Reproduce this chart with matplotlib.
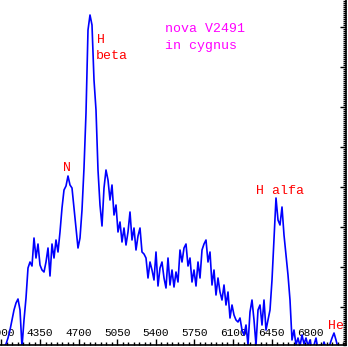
import numpy as np
import matplotlib
matplotlib.use("Agg")
import matplotlib.pyplot as plt
from matplotlib.ticker import MultipleLocator, FixedLocator

# spectrum of nova V2491 Cyg, sampled on a regular wavelength grid (Angstrom)
wavelength = np.linspace(3987, 7125, 174)
flux = [
    -5, -4, -2, 1, 7, 15, 25, 35, 42, 46,
    35, -2, 25, 47, 77, 83, 79, 107, 87, 101,
    80, 75, 73, 83, 97, 69, 101, 87, 105, 93,
    113, 137, 155, 159, 169, 160, 157, 137, 117, 97,
    107, 135, 177, 232, 315, 330, 320, 265, 235, 175,
    140, 119, 157, 175, 165, 145, 160, 130, 140, 113,
    123, 103, 117, 100, 113, 133, 105, 117, 95, 109,
    117, 93, 91, 87, 67, 83, 75, 65, 93, 59,
    77, 83, 67, 57, 87, 60, 75, 58, 73, 63,
    95, 83, 97, 101, 79, 87, 63, 75, 59, 83,
    67, 95, 101, 105, 83, 93, 60, 75, 50, 67,
    53, 45, 60, 40, 53, 27, 40, 30, 25, 23,
    27, 15, 10, 20, 0, 33, 45, 25, 0, 35,
    40, 20, 45, 15, 25, 35, 65, 105, 147, 125,
    120, 138, 110, 90, 70, 45, 5, 15, 0, 7,
    -1, 10, 1, 7, -1, 5, -5, 0, 7, -5,
    0, -5, 3, -3, -5, 1, 7, 12, 5, -3,
    -5, -1, -5, -5,
]
xticks = [4000, 4350, 4700, 5050, 5400, 5750, 6100, 6450, 6800]

# (label, colour, x px, y px) for the annotations, in figure pixels
labels = [
    ("nova V2491", "#ff00ff", 165, 29),
    ("in cygnus", "#ff00ff", 165, 46),
    ("H", "#ff0000", 97, 40),
    ("beta", "#ff0000", 96, 56),
    ("N", "#ff0000", 63, 168),
    ("H alfa", "#ff0000", 256, 191),
    ("He", "#ff0000", 328, 326),
]

W, H = 348, 347
fig = plt.figure(figsize=(W / 100, H / 100), dpi=100)
ax = fig.add_axes([0, 2 / H, 346 / W, 345 / H])

ax.plot(wavelength, flux, color="#0000ff", lw=1.2)
ax.set_xlim(3987, 7125)
ax.set_ylim(0, 345)

for side in ("left", "top"):
    ax.spines[side].set_visible(False)
ax.spines["bottom"].set_linewidth(1.2)
ax.spines["right"].set_linewidth(1.2)

ax.xaxis.set_major_locator(FixedLocator(xticks))
ax.xaxis.set_minor_locator(MultipleLocator(50))
ax.tick_params(axis="x", which="major", direction="in", length=4, width=1,
               pad=-12, labelsize=8)
ax.tick_params(axis="x", which="minor", direction="in", length=2, width=1)
for lab in ax.get_xticklabels():
    lab.set_family(["Liberation Mono", "DejaVu Sans Mono"])

ax.yaxis.tick_right()
ax.yaxis.set_major_locator(MultipleLocator(40, offset=38))
ax.yaxis.set_minor_locator(MultipleLocator(2))
ax.tick_params(axis="y", which="major", direction="in", length=4, width=1,
               labelright=False)
ax.tick_params(axis="y", which="minor", direction="in", length=2, width=1)

for text, color, px, py in labels:
    fig.text(px / W, 1 - py / H, text, color=color, fontsize=9.5,
             family=["Liberation Mono", "DejaVu Sans Mono"],
             ha="left", va="center")

fig.savefig("out.png", dpi=100)
